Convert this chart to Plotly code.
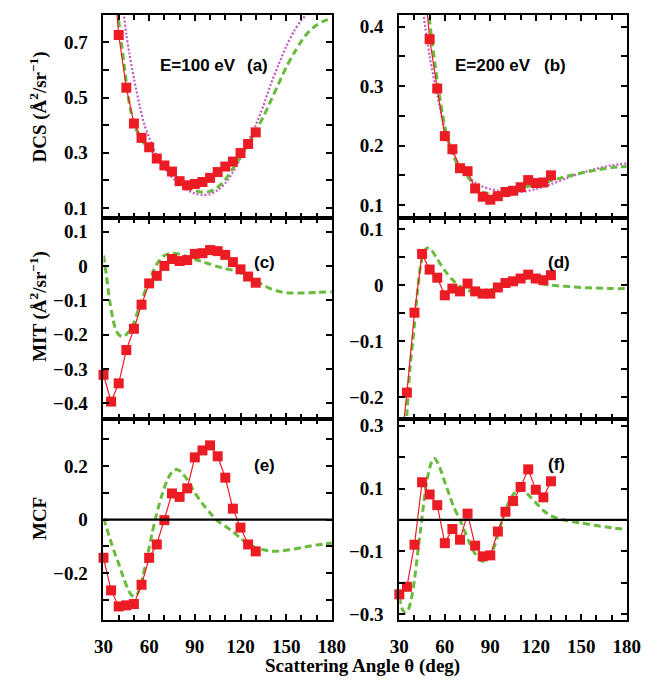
import plotly.graph_objects as go

W, H = 661, 682

# ---------------- measured data (red squares) ----------------
theta_exp = [30, 35, 40, 45, 50, 55, 60, 65, 70, 75, 80, 85, 90, 95, 100,
             105, 110, 115, 120, 125, 130]

dcs100_exp = [1.50, 1.06, 0.727, 0.536, 0.406, 0.354, 0.320, 0.279, 0.254, 0.232,
              0.197, 0.182, 0.187, 0.194, 0.209, 0.230, 0.250, 0.268, 0.299,
              0.332, 0.374]
dcs200_exp = [1.40, 1.00, 0.72, 0.52, 0.379, 0.296, 0.216, 0.194, 0.162, 0.157,
              0.128, 0.114, 0.109, 0.115, 0.122, 0.124, 0.130, 0.142, 0.137,
              0.138, 0.150]
mit100_exp = [-0.317, -0.395, -0.342, -0.245, -0.183, -0.113, -0.051, -0.029,
              0.000, 0.020, 0.014, 0.017, 0.035, 0.037, 0.046, 0.043, 0.032,
              0.011, -0.010, -0.031, -0.049]
mit200_exp = [-0.32, -0.192, -0.049, 0.056, 0.028, 0.0135, -0.018, -0.006,
              -0.011, 0.003, -0.011, -0.015, -0.015, -0.004, 0.004, 0.007,
              0.012, 0.019, 0.012, 0.009, 0.018]
mcf100_exp = [-0.143, -0.265, -0.325, -0.321, -0.316, -0.244, -0.143, -0.093,
              -0.002, 0.098, 0.085, 0.117, 0.233, 0.259, 0.278, 0.237, 0.157,
              0.041, -0.030, -0.093, -0.119]
mcf200_exp = [-0.237, -0.213, -0.079, 0.120, 0.081, 0.047, -0.074, -0.029,
              -0.063, 0.020, -0.082, -0.116, -0.113, -0.037, 0.026, 0.060,
              0.105, 0.161, 0.096, 0.072, 0.123]

# ---------------- calculation (green dashed) ----------------
th_g_dcs100 = [38, 39, 40, 42, 44, 46, 48, 50, 55, 60, 65, 70, 75, 80, 85, 90,
               95, 100, 105, 110, 115, 120, 125, 130, 135, 140, 145, 150, 155,
               160, 165, 170, 175, 180]
g_dcs100 = [0.90, 0.84, 0.78, 0.69, 0.60, 0.51, 0.45, 0.405, 0.345, 0.315,
            0.29, 0.263, 0.235, 0.203, 0.178, 0.163, 0.157, 0.160, 0.175,
            0.203, 0.243, 0.285, 0.330, 0.380, 0.430, 0.490, 0.550, 0.610,
            0.660, 0.705, 0.740, 0.763, 0.778, 0.787]

th_g_dcs200 = [45, 48, 50, 55, 60, 65, 70, 75, 80, 85, 90, 95, 100, 110, 120,
               130, 140, 150, 160, 170, 180]
g_dcs200 = [0.60, 0.47, 0.41, 0.31, 0.232, 0.186, 0.162, 0.148, 0.132, 0.122,
            0.118, 0.118, 0.121, 0.128, 0.135, 0.141, 0.148, 0.154, 0.159,
            0.163, 0.165]

th_g_mit100 = [30, 32, 34, 36, 38, 40, 42, 44, 46, 48, 50, 55, 60, 65, 70, 75,
               80, 85, 90, 95, 100, 105, 110, 115, 120, 125, 130, 135, 140,
               145, 150, 160, 170, 180]
g_mit100 = [0.03, -0.03, -0.10, -0.15, -0.185, -0.20, -0.205, -0.203, -0.195,
            -0.183, -0.165, -0.10, -0.045, 0.005, 0.030, 0.037, 0.034, 0.027,
            0.019, 0.012, 0.005, -0.002, -0.008, -0.013, -0.020, -0.030,
            -0.043, -0.056, -0.067, -0.074, -0.078, -0.079, -0.077, -0.075]

th_g_mit200 = [30, 33, 35, 37, 40, 42, 44, 46, 48, 50, 52, 55, 60, 65, 70, 75,
               80, 85, 90, 95, 100, 105, 110, 115, 120, 125, 130, 140, 150,
               160, 170, 180]
g_mit200 = [-0.45, -0.33, -0.23, -0.15, -0.07, -0.01, 0.035, 0.058, 0.066,
            0.066, 0.060, 0.047, 0.026, 0.010, -0.002, -0.009, -0.012, -0.012,
            -0.009, -0.003, 0.004, 0.010, 0.013, 0.012, 0.006, 0.002, 0.000,
            -0.002, -0.004, -0.005, -0.006, -0.006]

th_g_mcf100 = [30, 32, 35, 38, 40, 43, 46, 48, 50, 52, 54, 56, 58, 60, 62, 64,
               66, 68, 70, 72, 74, 76, 78, 80, 82, 85, 88, 90, 95, 100, 105,
               110, 115, 120, 125, 130, 135, 140, 145, 150, 160, 170, 180]
g_mcf100 = [0.005, -0.03, -0.085, -0.135, -0.165, -0.215, -0.26, -0.28,
            -0.288, -0.28, -0.255, -0.21, -0.16, -0.105, -0.05, 0.0, 0.045,
            0.085, 0.12, 0.15, 0.17, 0.185, 0.188, 0.183, 0.172, 0.15, 0.12,
            0.10, 0.06, 0.025, -0.005, -0.025, -0.045, -0.07, -0.09, -0.105,
            -0.113, -0.118, -0.118, -0.115, -0.105, -0.095, -0.088]

th_g_mcf200 = [30, 32, 34, 36, 38, 40, 42, 44, 46, 48, 50, 52, 53, 55, 58, 60,
               63, 66, 70, 73, 76, 79, 82, 85, 87, 90, 93, 96, 99, 102, 105,
               108, 110, 112, 115, 120, 125, 130, 135, 140, 150, 160, 170, 180]
g_mcf200 = [-0.245, -0.285, -0.296, -0.285, -0.25, -0.19, -0.11, -0.03, 0.05,
            0.12, 0.165, 0.193, 0.196, 0.185, 0.15, 0.12, 0.08, 0.04, 0.0,
            -0.035, -0.07, -0.10, -0.122, -0.132, -0.13, -0.112, -0.08, -0.03,
            0.015, 0.055, 0.08, 0.097, 0.10, 0.096, 0.08, 0.055, 0.03, 0.013,
            0.004, -0.002, -0.010, -0.018, -0.025, -0.031]

# ---------------- second calculation (magenta dotted, DCS only) ----------------
th_m_dcs100 = [42, 43, 45, 47, 50, 54, 57, 60, 64, 68, 72, 76, 80, 85, 90, 95,
               100, 105, 110, 115, 120, 125, 130, 135, 140, 145, 150, 155, 160,
               165, 170]
m_dcs100 = [0.88, 0.82, 0.73, 0.66, 0.57, 0.465, 0.40, 0.355, 0.30, 0.26,
            0.23, 0.205, 0.185, 0.165, 0.152, 0.147, 0.150, 0.165, 0.19, 0.23,
            0.28, 0.34, 0.40, 0.47, 0.55, 0.62, 0.685, 0.74, 0.78, 0.81, 0.84]

th_m_dcs200 = [44, 46, 50, 55, 60, 65, 70, 75, 80, 85, 90, 95, 100, 110, 120,
               130, 140, 150, 160, 170, 180]
m_dcs200 = [0.47, 0.42, 0.35, 0.285, 0.228, 0.19, 0.166, 0.149, 0.138, 0.131,
            0.127, 0.124, 0.122, 0.122, 0.127, 0.135, 0.145, 0.154, 0.161,
            0.167, 0.170]

# ---------------- axis ranges / ticks ----------------
yranges = {
    1: [0.063, 0.80], 2: [0.078, 0.42],
    3: [-0.447, 0.139], 4: [-0.24, 0.12],
    5: [-0.375, 0.375], 6: [-0.318, 0.32],
}
yticks = {
    1: dict(tick0=0.1, dtick=0.2, minor=0.1),
    2: dict(tick0=0.1, dtick=0.1, minor=0.05),
    3: dict(tick0=0.0, dtick=0.1, minor=None),
    4: dict(tick0=0.0, dtick=0.1, minor=0.05),
    5: dict(tick0=0.0, dtick=0.2, minor=0.1),
    6: dict(tick0=0.1, dtick=0.2, minor=0.1),
}

RED = "#ec1c24"
GREEN = "#69bb3e"
MAGENTA = "#c455c4"
TICKFONT = dict(family="Liberation Serif", size=19, color="black", weight="bold")


def px_x(p):
    return p / W


def px_y(p):
    return 1 - p / H


xdom_left = [px_x(97), px_x(334)]
xdom_right = [px_x(404), px_x(640)]
ydom = {
    0: [px_y(217), px_y(11)],
    1: [px_y(421), px_y(217)],
    2: [px_y(624), px_y(421)],
}

fig = go.Figure()

panels = [
    (1, theta_exp, dcs100_exp, th_g_dcs100, g_dcs100, th_m_dcs100, m_dcs100),
    (2, theta_exp, dcs200_exp, th_g_dcs200, g_dcs200, th_m_dcs200, m_dcs200),
    (3, theta_exp, mit100_exp, th_g_mit100, g_mit100, None, None),
    (4, theta_exp, mit200_exp, th_g_mit200, g_mit200, None, None),
    (5, theta_exp, mcf100_exp, th_g_mcf100, g_mcf100, None, None),
    (6, theta_exp, mcf200_exp, th_g_mcf200, g_mcf200, None, None),
]

for k, tx, ty, tg, g, tm, m in panels:
    xa = "x" if k == 1 else f"x{k}"
    ya = "y" if k == 1 else f"y{k}"
    if tm is not None:
        fig.add_trace(go.Scatter(x=tm, y=m, mode="lines", xaxis=xa, yaxis=ya,
                                 line=dict(color=MAGENTA, width=2.2, dash="2px,2px",
                                           shape="spline", smoothing=0.8),
                                 showlegend=False, hoverinfo="skip"))
    fig.add_trace(go.Scatter(x=tg, y=g, mode="lines", xaxis=xa, yaxis=ya,
                             line=dict(color=GREEN, width=3, dash="7px,4px",
                                       shape="spline", smoothing=0.8),
                             showlegend=False, hoverinfo="skip"))
    # connecting line through every measured point (clipped to the frame)
    fig.add_trace(go.Scatter(x=tx, y=ty, mode="lines", xaxis=xa, yaxis=ya,
                             line=dict(color=RED, width=1.2),
                             showlegend=False, hoverinfo="skip"))
    # squares only for points inside the frame, allowed to overhang the border
    lo, hi = yranges[k]
    inx = [a for a, b in zip(tx, ty) if lo <= b <= hi]
    iny = [b for b in ty if lo <= b <= hi]
    fig.add_trace(go.Scatter(x=inx, y=iny, mode="markers", xaxis=xa, yaxis=ya,
                             marker=dict(symbol="square", size=10, color=RED,
                                         line=dict(width=0)),
                             cliponaxis=False, showlegend=False))

layout = dict(width=W, height=H, autosize=False,
              margin=dict(l=0, r=0, t=0, b=0),
              paper_bgcolor="white", plot_bgcolor="white")

for k in range(1, 7):
    row = (k - 1) // 2
    col = (k - 1) % 2
    xname = "xaxis" if k == 1 else f"xaxis{k}"
    yname = "yaxis" if k == 1 else f"yaxis{k}"
    ya = "y" if k == 1 else f"y{k}"
    xa = "x" if k == 1 else f"x{k}"
    layout[xname] = dict(
        domain=xdom_left if col == 0 else xdom_right,
        anchor=ya, range=[30, 180],
        showline=True, linecolor="black", linewidth=2, mirror="allticks",
        ticks="inside", ticklen=6, tickwidth=1.5, tickcolor="black",
        tickmode="linear", tick0=30, dtick=30,
        minor=dict(dtick=10, tick0=30, ticks="inside", ticklen=5,
                   tickwidth=1.5, tickcolor="black"),
        showticklabels=(row == 2), tickfont=TICKFONT, ticklabelstandoff=8,
        showgrid=False, zeroline=False, fixedrange=True,
    )
    t = yticks[k]
    yax = dict(
        domain=ydom[row], anchor=xa, range=yranges[k],
        showline=True, linecolor="black", linewidth=2, mirror="allticks",
        ticks="inside", ticklen=6, tickwidth=1.5, tickcolor="black",
        tickmode="linear", tick0=t["tick0"], dtick=t["dtick"],
        tickfont=TICKFONT, ticklabelstandoff=10,
        showgrid=False, zeroline=False, fixedrange=True,
    )
    if t["minor"]:
        yax["minor"] = dict(dtick=t["minor"], tick0=t["tick0"], ticks="inside",
                            ticklen=6, tickwidth=1.5, tickcolor="black")
    layout[yname] = yax

fig.update_layout(**layout)
fig.update_yaxes(tickformat="~g")

# zero reference lines in the MCF panels
for k in (5, 6):
    fig.add_shape(type="line", xref=f"x{k} domain", yref=f"y{k}",
                  x0=0, x1=1, y0=0, y1=0,
                  line=dict(color="black", width=2.2))

SANS = dict(family="Liberation Sans", size=17, color="black")
SERIF = dict(family="Liberation Serif", size=19, color="black")


def note(text, x, y, font, xanchor="center", angle=0):
    fig.add_annotation(text=text, x=px_x(x), y=px_y(y), xref="paper",
                       yref="paper", showarrow=False, font=font,
                       xanchor=xanchor, yanchor="middle", textangle=angle)


note("<b>E=100 eV</b>", 154, 62, SANS, xanchor="left")
note("<b>(a)</b>", 257, 62, SANS)
note("<b>E=200 eV</b>", 460, 62, SANS, xanchor="left")
note("<b>(b)</b>", 566, 62, SANS)
note("<b>(c)</b>", 264, 262, SANS)
note("<b>(d)</b>", 570, 262, SANS)
note("<b>(e)</b>", 264, 468, SANS)
note("<b>(f)</b>", 567, 467, SANS)

note("<b>DCS (Å<sup>2</sup>/sr<sup>−1</sup>)</b>", 30, 104, SERIF, angle=-90)
note("<b>MIT (Å<sup>2</sup>/sr<sup>−1</sup>)</b>", 30, 306, SERIF, angle=-90)
note("<b>MCF</b>", 30, 521, SERIF, angle=-90)
note("<b>Scattering Angle θ (deg)</b>", 366, 671, SERIF)

fig.write_html("out.html")
